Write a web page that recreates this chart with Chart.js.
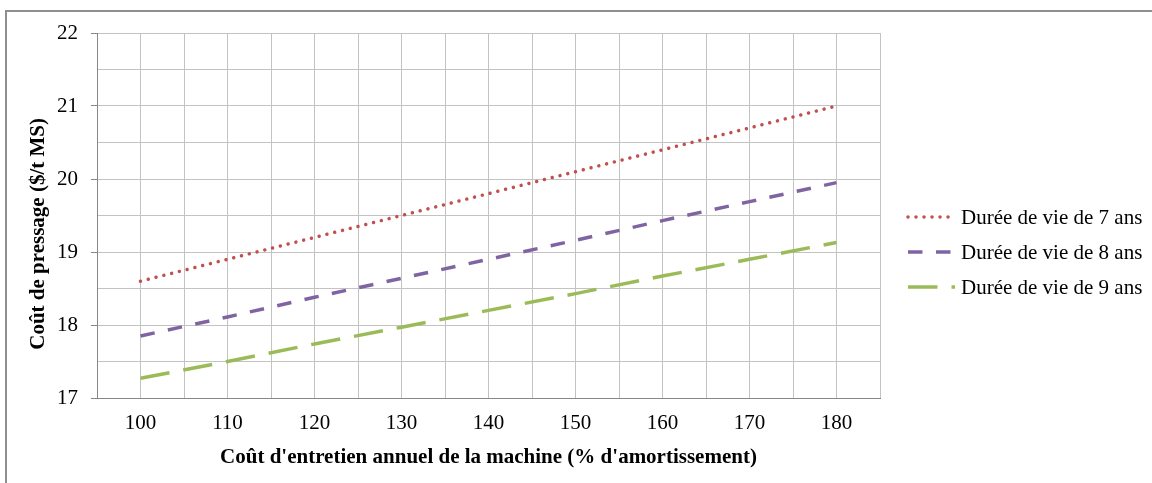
<!DOCTYPE html>
<html>
<head>
<meta charset="utf-8">
<script src="https://cdn.jsdelivr.net/npm/chart.js@4/dist/chart.umd.min.js"></script>
<style>
  html, body { margin: 0; padding: 0; background: #fff; }
  #wrap { position: relative; width: 1152px; height: 483px; overflow: hidden; }
  #frame { position: absolute; left: 5px; top: 10px; width: 1200px; height: 600px;
           border: 2px solid #8f8f8f; box-sizing: border-box; pointer-events: none; }
</style>
</head>
<body>
<div id="wrap">
  <canvas id="chart" width="1152" height="483"></canvas>
  <div id="frame"></div>
</div>
<script>
// maintenance cost (% of depreciation) and pressing cost ($/t MS) for each machine life
const costs = [100, 110, 120, 130, 140, 150, 160, 170, 180];
const vie7 = [18.60, 18.90, 19.20, 19.50, 19.80, 20.10, 20.40, 20.70, 21.00];
const vie8 = [17.85, 18.11, 18.38, 18.64, 18.90, 19.16, 19.43, 19.69, 19.95];
const vie9 = [17.27, 17.50, 17.74, 17.97, 18.20, 18.43, 18.67, 18.90, 19.13];
const labels = ['Durée de vie de 7 ans', 'Durée de vie de 8 ans', 'Durée de vie de 9 ans'];

const serif = '"Liberation Serif", "Times New Roman", serif';
const pts = arr => arr.map((y, i) => ({ x: costs[i], y }));

// legend drawn to the right of the plot, like the Excel one
const sideLegend = {
    id: 'sideLegend',
    afterDraw(chart) {
        const ctx = chart.ctx;
        const x0 = chart.chartArea.right + 28;
        chart.data.datasets.forEach((ds, i) => {
            const y = 217 + i * 35;
            ctx.save();
            ctx.strokeStyle = ds.borderColor;
            ctx.lineWidth = ds.borderWidth;
            ctx.lineCap = ds.borderCapStyle || 'butt';
            ctx.setLineDash(ds.borderDash || []);
            ctx.beginPath();
            ctx.moveTo(x0, y);
            ctx.lineTo(x0 + 47, y);
            ctx.stroke();
            ctx.setLineDash([]);
            ctx.fillStyle = '#000';
            ctx.font = '21px ' + serif;
            ctx.textBaseline = 'middle';
            ctx.fillText(ds.label, x0 + 53, y + 1);
            ctx.restore();
        });
    }
};

new Chart(document.getElementById('chart'), {
    type: 'line',
    data: {
        datasets: [
            {
                label: labels[0],
                data: pts(vie7),
                borderColor: '#C0504D',
                borderWidth: 3.5,
                borderDash: [0.01, 8],
                borderCapStyle: 'round',
            },
            {
                label: labels[1],
                data: pts(vie8),
                borderColor: '#8064A2',
                borderWidth: 3.5,
                borderDash: [14.5, 13.5],
            },
            {
                label: labels[2],
                data: pts(vie9),
                borderColor: '#9BBB59',
                borderWidth: 3.5,
                borderDash: [29.5, 14],
            },
        ],
    },
    options: {
        responsive: false,
        animation: false,
        layout: { padding: { top: 33, right: 272, left: 0, bottom: 0 } },
        elements: {
            point: { radius: 0 },
            line: { tension: 0, fill: false },
        },
        plugins: {
            legend: { display: false },
            tooltip: { enabled: false },
        },
        scales: {
            x: {
                type: 'linear',
                min: 95,
                max: 185,
                afterFit: s => { s.height = 85; },
                grid: { color: '#c3c3c3', drawTicks: false },
                border: { color: '#878787' },
                ticks: {
                    stepSize: 5,
                    autoSkip: false,
                    maxRotation: 0,
                    padding: 13,
                    color: '#000',
                    font: { family: serif, size: 21 },
                    callback: v => (v % 10 === 0 ? v : ''),
                },
                title: {
                    display: true,
                    text: "Coût d'entretien annuel de la machine (% d'amortissement)",
                    color: '#000',
                    font: { family: serif, size: 21, weight: 'bold' },
                    padding: { bottom: 13 },
                },
            },
            y: {
                min: 17,
                max: 22,
                afterFit: s => { s.width = 97; },
                grid: {
                    color: '#c3c3c3',
                    tickLength: 6,
                    tickColor: c => (Number.isInteger(c.tick.value) ? '#878787' : 'rgba(0,0,0,0)'),
                },
                border: { color: '#878787' },
                ticks: {
                    stepSize: 0.5,
                    autoSkip: false,
                    padding: 13,
                    color: '#000',
                    font: { family: serif, size: 21 },
                    callback: v => (Number.isInteger(v) ? v : ''),
                },
                title: {
                    display: true,
                    text: 'Coût de pressage ($/t MS)       ',
                    color: '#000',
                    font: { family: serif, size: 21, weight: 'bold' },
                    padding: { top: 26 },
                },
            },
        },
    },
    plugins: [sideLegend],
});
</script>
</body>
</html>
